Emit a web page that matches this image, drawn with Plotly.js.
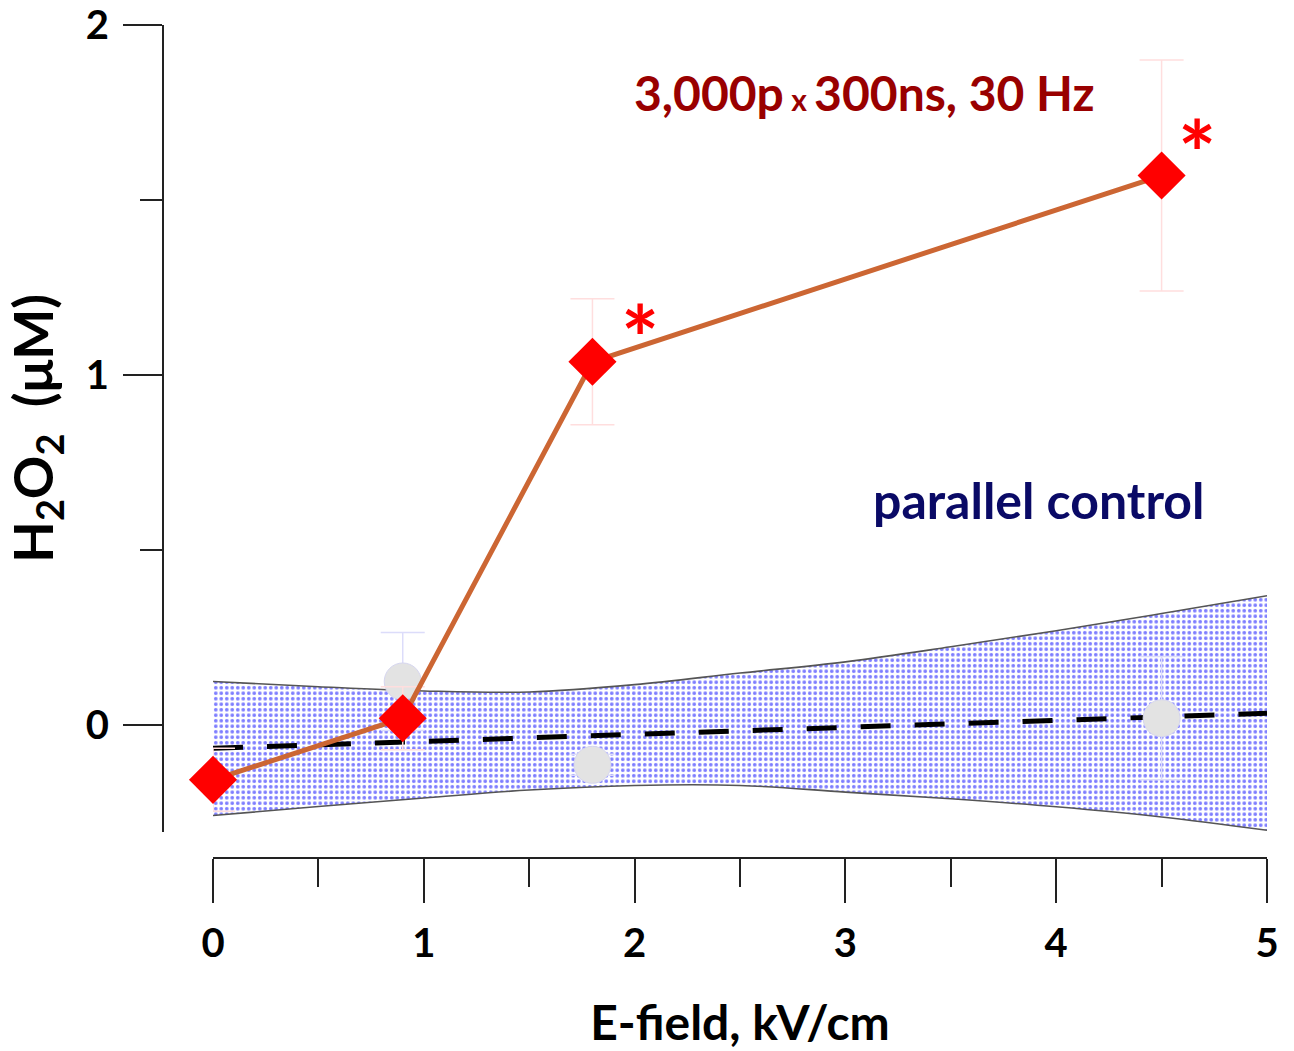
<!DOCTYPE html>
<html><head><meta charset="utf-8">
<script src="https://cdn.plot.ly/plotly-3.0.1.min.js"></script>
<style>html,body{margin:0;padding:0;background:#fff}#chart{width:1294px;height:1051px}</style>
</head><body><div id="chart"></div>
<script>
// E-field (kV/cm) and H2O2 (uM) for the 3,000p x 300ns, 30 Hz exposure
const efield = [0, 0.9, 1.8, 4.5];
const h2o2Treated = [-0.156, 0.02, 1.038, 1.570];
const h2o2TreatedErr = [0.09, 0.09, 0.18, 0.33];
// parallel control
const controlX = [0.9, 1.8, 4.5];
const h2o2Control = [0.125, -0.113, 0.02];
const h2o2ControlErr = [0.14, 0.03, 0.176];
// control regression line and its confidence band
const fitX = [0, 5];
const fitY = [-0.066, 0.034];
const bandX = [0, 0.5, 1, 1.5, 2, 2.5, 3, 3.5, 4, 4.5, 5];
const bandUpper = [0.125, 0.110, 0.098, 0.095, 0.116, 0.149, 0.181, 0.224, 0.270, 0.319, 0.370];
const bandLower = [-0.258, -0.232, -0.208, -0.185, -0.172, -0.172, -0.191, -0.210, -0.233, -0.262, -0.300];
const xTicks = [0, 1, 2, 3, 4, 5];
const yTicks = [0, 1, 2];

const FONT = 'Lato, "Open Sans", sans-serif';

const traces = [
  {x: bandX, y: bandLower, mode: 'lines', line: {color: '#555', width: 1.6, shape: 'spline'}, hoverinfo: 'skip', showlegend: false},
  {x: bandX, y: bandUpper, mode: 'lines', line: {color: '#555', width: 1.6, shape: 'spline'}, fill: 'tonexty',
   fillcolor: 'rgba(255,255,255,0)',
   fillpattern: {shape: '.', fgcolor: '#7d7dff', bgcolor: '#ffffff', size: 5.5, solidity: 0.36},
   hoverinfo: 'skip', showlegend: false},
  {x: fitX, y: fitY, mode: 'lines', line: {color: '#000', width: 5, dash: '30px,24px'}, showlegend: false},
  {x: controlX, y: h2o2Control, mode: 'markers', cliponaxis: false,
   marker: {symbol: 'circle', size: 37, color: '#e3e3e3', line: {color: '#d6d6ef', width: 1}},
   error_y: {type: 'data', array: h2o2ControlErr, visible: true, color: '#dcdcfa', thickness: 1.5, width: 22},
   showlegend: false},
  {x: efield, y: h2o2Treated, mode: 'lines+markers', cliponaxis: false,
   line: {color: '#cc6633', width: 5},
   marker: {symbol: 'diamond', size: 37, color: '#ff0000', line: {width: 0}},
   error_y: {type: 'data', array: h2o2TreatedErr, visible: true, color: '#ffdede', thickness: 1.5, width: 22},
   showlegend: false}
];

const layout = {
  width: 1294, height: 1051,
  margin: {l: 163, r: 27, t: 25, b: 193},
  paper_bgcolor: '#fff', plot_bgcolor: 'rgba(0,0,0,0)',
  showlegend: false,
  xaxis: {
    domain: [0.0453, 1], range: [0, 5], anchor: 'free', position: 0,
    showline: true, linecolor: '#222', linewidth: 2, showgrid: false, zeroline: false,
    ticks: 'outside', ticklen: 44, tickwidth: 2, tickcolor: '#222',
    tickvals: xTicks, ticktext: xTicks.map(String), ticklabelstandoff: 6,
    minor: {dtick: 0.5, tick0: 0, ticks: 'outside', ticklen: 28, tickwidth: 2, tickcolor: '#222'},
    tickfont: {family: FONT, size: 40, color: '#000', weight: 700},
    title: {text: 'E-field, kV/cm', font: {family: FONT, size: 48, color: '#000', weight: 700}, standoff: 40}
  },
  yaxis: {
    domain: [0.0316, 1], range: [-0.304, 2], anchor: 'free', position: 0,
    showline: true, linecolor: '#222', linewidth: 2, showgrid: false, zeroline: false,
    ticks: 'outside', ticklen: 39, tickwidth: 2, tickcolor: '#222',
    tickvals: yTicks, ticktext: yTicks.map(String), ticklabelstandoff: 6,
    minor: {dtick: 0.5, tick0: 0, ticks: 'outside', ticklen: 22, tickwidth: 2, tickcolor: '#222'},
    tickfont: {family: FONT, size: 40, color: '#000', weight: 700},
    title: {text: 'H<sub>2</sub>O<sub>2</sub>\u00a0\u00a0(\u03bcM)', font: {family: FONT, size: 54, color: '#000', weight: 700}, standoff: 14}
  },
  annotations: [
    {xref: 'x', yref: 'y', x: 3.09, y: 1.806, xanchor: 'center', yanchor: 'middle', showarrow: false,
     text: '3,000p<span style="font-size:30px"> x </span>300ns, 30 Hz',
     font: {family: FONT, size: 48, color: '#990000', weight: 700}},
    {xref: 'x', yref: 'y', x: 3.917, y: 0.643, xanchor: 'center', yanchor: 'middle', showarrow: false,
     text: 'parallel control', font: {family: FONT, size: 50, color: '#0a0a66', weight: 700}},
    {xref: 'x', yref: 'y', x: 2.024, y: 1.11, xanchor: 'center', yanchor: 'middle', showarrow: false,
     text: '*', font: {family: FONT, size: 90, color: '#ff0000', weight: 700}},
    {xref: 'x', yref: 'y', x: 4.667, y: 1.638, xanchor: 'center', yanchor: 'middle', showarrow: false,
     text: '*', font: {family: FONT, size: 90, color: '#ff0000', weight: 700}}
  ]
};

Plotly.newPlot('chart', traces, layout, {staticPlot: true, displayModeBar: false});
</script>
</body></html>
